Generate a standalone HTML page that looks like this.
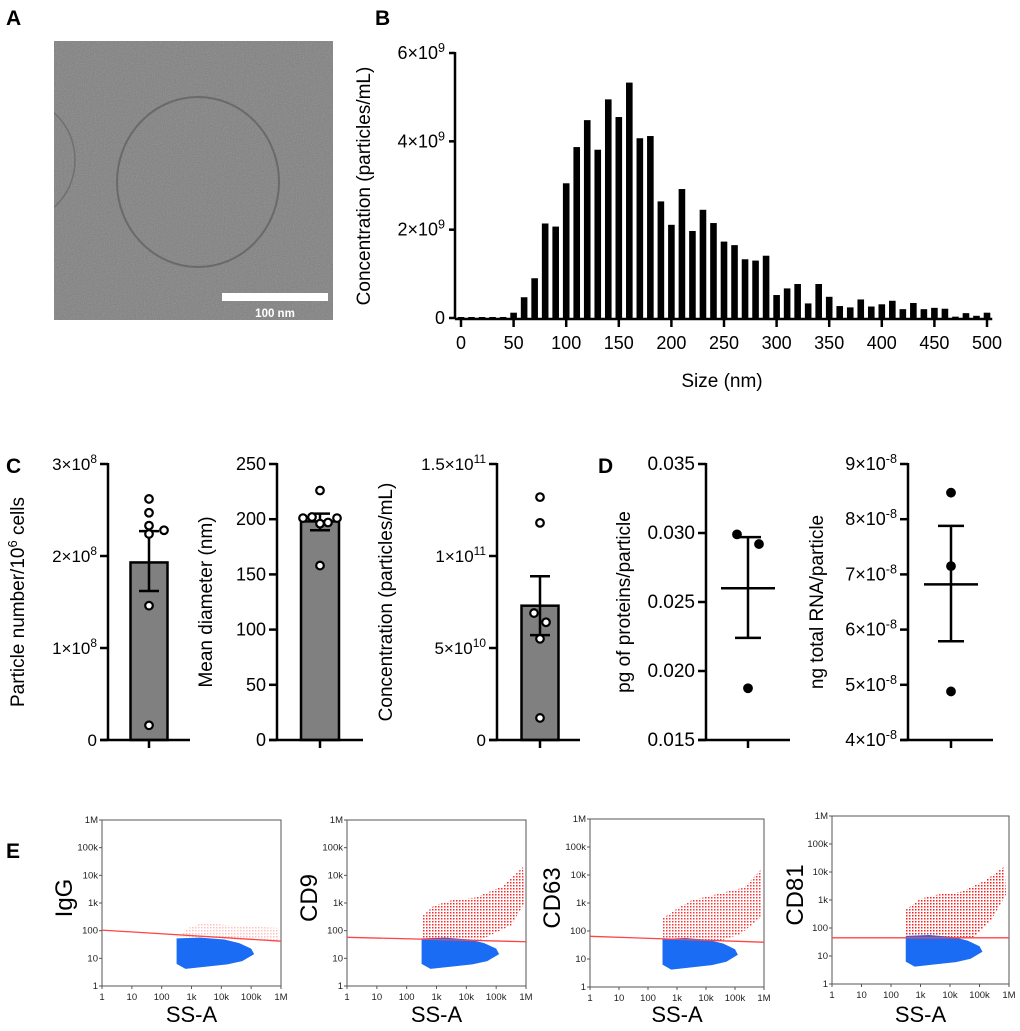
<!DOCTYPE html>
<html><head><meta charset="utf-8"><style>
html,body{margin:0;padding:0;background:#fff;}
svg{display:block;font-family:"Liberation Sans",Arial,sans-serif;}
</style></head><body>
<svg id="fig" width="1020" height="1031" viewBox="0 0 1020 1031" xmlns="http://www.w3.org/2000/svg">
<defs>
<filter id="noise" x="0" y="0" width="100%" height="100%"><feTurbulence type="fractalNoise" baseFrequency="0.9" numOctaves="2" seed="3"/><feColorMatrix type="saturate" values="0"/><feComponentTransfer><feFuncA type="linear" slope="0.35"/></feComponentTransfer></filter>
</defs>
<g font-weight="bold" font-size="21">
<text x="6" y="25">A</text>
<text x="375" y="25">B</text>
<text x="6" y="473">C</text>
<text x="598" y="473">D</text>
<text x="6" y="858">E</text>
</g>
<g>
<rect x="54" y="41" width="279" height="279" fill="#7f7f7f"/>
<rect x="54" y="41" width="279" height="279" filter="url(#noise)"/>
<ellipse cx="198" cy="182" rx="81" ry="85" fill="none" stroke="#6a6a6a" stroke-width="2"/>
<clipPath id="aclip"><rect x="54" y="41" width="279" height="279"/></clipPath>
<ellipse cx="20" cy="160" rx="55" ry="60" fill="none" stroke="#707070" stroke-width="1.5" clip-path="url(#aclip)"/>
<rect x="222" y="293" width="106" height="8" fill="#fff"/>
<text x="275" y="317" fill="#fff" font-size="11.5" font-weight="bold" text-anchor="middle">100 nm</text>
</g>
<g id="pb"></g>
<g id="pc"></g>
<g id="pd"></g>
<g id="pe"></g>
</svg>
<script>
const NS='http://www.w3.org/2000/svg';
function mk(parent,tag,attrs,text){const e=document.createElementNS(NS,tag);for(const k in attrs)e.setAttribute(k,attrs[k]);if(text!==undefined)e.textContent=text;parent.appendChild(e);return e;}
function supText(parent,attrs,label,fs){
 const t=mk(parent,'text',attrs);
 const parts=label.split('^');
 mk(t,'tspan',{},parts[0]);
 if(parts.length>1){mk(t,'tspan',{dy:-7,'font-size':fs*0.7},parts[1]);}
 return t;
}

// ---- Panel B data ----
const sizeBins=[0,10,20,30,40,50,60,70,80,90,100,110,120,130,140,150,160,170,180,190,200,210,220,230,240,250,260,270,280,290,300,310,320,330,340,350,360,370,380,390,400,410,420,430,440,450,460,470,480,490,500];
const concValues=[0,0,0,0,0.02,0.12,0.47,0.9,2.14,2.07,3.05,3.87,4.48,3.81,4.95,4.55,5.33,4.07,4.12,2.64,2.11,2.92,1.97,2.45,2.15,1.73,1.65,1.33,1.30,1.41,0.52,0.67,0.77,0.33,0.77,0.48,0.27,0.24,0.42,0.26,0.31,0.39,0.20,0.34,0.20,0.23,0.21,0.03,0.11,0.05,0.12];
const bXTicks=[0,50,100,150,200,250,300,350,400,450,500];
const bYTicks=[0,2,4,6];
const bYLabels=['0','2×10^9','4×10^9','6×10^9'];

// ---- Panel C data ----
const c1Points=[2.62,2.47,2.33,2.24,2.28,1.46,0.16]; const c1Mean=1.93, c1Err=[1.62,2.27];
const c1Ticks=[0,1,2,3]; const c1Labels=['0','1×10^8','2×10^8','3×10^8'];
const c2Points=[226,201,202,196,197,201,158]; const c2Mean=198, c2Err=[190,205];
const c2Ticks=[0,50,100,150,200,250]; const c2Labels=['0','50','100','150','200','250'];
const c3Points=[13.2,11.8,6.9,6.4,5.5,1.2]; const c3Mean=7.3, c3Err=[5.7,8.9];
const c3Ticks=[0,5,10,15]; const c3Labels=['0','5×10^10','1×10^11','1.5×10^11'];

// ---- Panel D data ----
const d1Points=[0.0299,0.0292,0.01875]; const d1Mean=0.0260, d1Err=[0.0224,0.0297];
const d1Ticks=[0.015,0.020,0.025,0.030,0.035]; const d1Labels=['0.015','0.020','0.025','0.030','0.035'];
const d2Points=[8.48,7.15,4.88]; const d2Mean=6.82, d2Err=[5.79,7.88];
const d2Ticks=[4,5,6,7,8,9]; const d2Labels=['4×10^-8','5×10^-8','6×10^-8','7×10^-8','8×10^-8','9×10^-8'];

// ---- Panel E data (log10 coordinates) ----
const eMarkers=['IgG','CD9','CD63','CD81'];
const eDecadeLabels=['1','10','100','1k','10k','100k','1M'];
const eGateStart=[2.02,1.76,1.81,1.65];
const eGateEnd=[1.62,1.60,1.60,1.65];
const eBlueCloud=[[2.5,1.72],[3.3,1.75],[4.1,1.68],[4.6,1.55],[5.0,1.35],[5.1,1.15],[4.7,0.9],[4.2,0.78],[3.5,0.7],[2.8,0.62],[2.5,0.8]];
const eRedClouds=[
 [[2.5,1.75],[2.9,2.1],[3.4,2.3],[4.2,2.2],[5.9,2.1],[5.9,1.65],[4.5,1.68],[2.5,1.8]],
 [[2.5,1.72],[2.5,2.5],[2.9,2.9],[3.5,3.1],[4.3,3.2],[5.2,3.6],[5.9,4.3],[5.95,3.0],[5.5,2.2],[4.5,1.68]],
 [[2.5,1.74],[2.5,2.45],[3,2.8],[3.5,3.1],[4.3,3.3],[5.3,3.55],[5.9,4.2],[5.9,2.5],[5.2,1.9],[4.5,1.65]],
 [[2.5,1.67],[2.5,2.65],[3,3.05],[3.6,3.2],[4.4,3.3],[5.2,3.7],[5.85,4.2],[5.9,3.2],[5.4,2.3],[4.8,1.67]]
];
const eRedDensity=[0.25,0.85,0.8,0.9];

// ===== Draw panel B =====
(function(){
 const g=document.getElementById('pb');
 const x0=461,x1=987,y0=318,y1=53;
 const X=v=>x0+(v-0)/(500)*(x1-x0);
 const Y=v=>y0-(v/6)*(y0-y1);
 const bw=6.6;
 sizeBins.forEach((s,i)=>{const v=concValues[i];const h=Math.max(Y(0)-Y(v),1);
  const r=mk(g,'rect',{x:X(s)-bw/2,y:Y(0)-h,width:bw,height:h,fill:'#000'});
  
  });
 mk(g,'line',{x1:455,y1:y0,x2:455,y2:y1-1,stroke:'#000','stroke-width':2.5,});
 mk(g,'line',{x1:455,y1:y0+1,x2:X(505),y2:y0+1,stroke:'#000','stroke-width':2.5,});
 bYTicks.forEach((t,i)=>{mk(g,'line',{x1:449,y1:Y(t),x2:455,y2:Y(t),stroke:'#000','stroke-width':2.5});
  const tx=supText(g,{x:445,y:Y(t)+6,'font-size':18,'text-anchor':'end'},bYLabels[i],18);
  
  });
 bXTicks.forEach(t=>{mk(g,'line',{x1:X(t),y1:y0+1,x2:X(t),y2:y0+9,stroke:'#000','stroke-width':2.5});
  const tx=mk(g,'text',{x:X(t),y:y0+31,'font-size':18,'text-anchor':'middle'},String(t));
  
  });
 mk(g,'text',{x:722,y:387,'font-size':19,'text-anchor':'middle',},'Size (nm)');
 mk(g,'text',{transform:'translate(370,186) rotate(-90)','font-size':19,'text-anchor':'middle',},'Concentration (particles/mL)');
})();

// ===== generic dot/bar plot =====
function dotPlot(g,o){
 const Y=v=>o.y0-(v-o.min)/(o.max-o.min)*(o.y0-o.y1);
 if(o.bar){const r=mk(g,'rect',{x:o.cx-o.bw/2,y:Y(o.mean),width:o.bw,height:o.y0-Y(o.mean),fill:'#808080',stroke:'#000','stroke-width':2.5});
  
  }
 const el=mk(g,'path',{d:`M${o.cx},${Y(o.err[0])}V${Y(o.err[1])}M${o.cx-o.cap},${Y(o.err[0])}H${o.cx+o.cap}M${o.cx-o.cap},${Y(o.err[1])}H${o.cx+o.cap}`+(o.bar?'':`M${o.cx-o.mw},${Y(o.mean)}H${o.cx+o.mw}`),stroke:'#000','stroke-width':2.5,fill:'none'});
 
 
 o.pts.forEach((v,i)=>{const c=mk(g,'circle',{cx:o.cx+o.off[i%o.off.length],cy:Y(v),r:o.bar?3.8:4.4,fill:o.bar?'#fff':'#000',stroke:'#000','stroke-width':o.bar?2.2:1});
  
  });
 mk(g,'line',{x1:o.ax,y1:o.y0+1,x2:o.ax,y2:o.y1-1,stroke:'#000','stroke-width':2.5});
 mk(g,'line',{x1:o.ax-8,y1:o.y0,x2:o.xe,y2:o.y0,stroke:'#000','stroke-width':2.5});
 mk(g,'line',{x1:o.cx,y1:o.y0,x2:o.cx,y2:o.y0+8,stroke:'#000','stroke-width':2.5});
 o.ticks.forEach((t,i)=>{mk(g,'line',{x1:o.ax-8,y1:Y(t),x2:o.ax,y2:Y(t),stroke:'#000','stroke-width':2.5});
  const tx=supText(g,{x:o.ax-11,y:Y(t)+6,'font-size':o.fs||17,'text-anchor':'end'},o.labels[i],o.fs||17);
  
  });
 const tt=mk(g,'text',{transform:`translate(${o.tx},${(o.y0+o.y1)/2}) rotate(-90)`,'font-size':19,'text-anchor':'middle'});
 tt.innerHTML=o.title;
 
 
}
const pc=document.getElementById('pc');
dotPlot(pc,{name:'particle-number',min:0,max:3,y0:740,y1:464,ax:108,xe:190,cx:149,bw:37,bar:true,mean:c1Mean,err:c1Err,cap:10,pts:c1Points,off:[0,0,0,0,15,0,0],ticks:c1Ticks,labels:c1Labels,tx:24,title:'Particle number/10<tspan dy="-7" font-size="13">6</tspan><tspan dy="7"> cells</tspan>'});
dotPlot(pc,{name:'mean-diameter',min:0,max:250,y0:740,y1:464,ax:277,xe:363,cx:320,bw:38,bar:true,mean:c2Mean,err:c2Err,cap:10,pts:c2Points,off:[0,-17,-8,0,8,17,0],ticks:c2Ticks,labels:c2Labels,tx:212,fs:18,title:'Mean diameter (nm)'});
dotPlot(pc,{name:'concentration',min:0,max:15,y0:740,y1:464,ax:497,xe:580,cx:540,bw:37,bar:true,mean:c3Mean,err:c3Err,cap:10,pts:c3Points,off:[0,0,-6,6,0,0],ticks:c3Ticks,labels:c3Labels,tx:392,title:'Concentration (particles/mL)'});
const pd=document.getElementById('pd');
dotPlot(pd,{name:'protein-per-particle',min:0.015,max:0.035,y0:740,y1:464,ax:706,xe:790,cx:748,bar:false,mean:d1Mean,err:d1Err,cap:13,mw:27,pts:d1Points,off:[-11,11,0],ticks:d1Ticks,labels:d1Labels,tx:630,fs:19,title:'pg of proteins/particle'});
dotPlot(pd,{name:'rna-per-particle',min:4,max:9,y0:740,y1:464,ax:908,xe:993,cx:951,bar:false,mean:d2Mean,err:d2Err,cap:13,mw:27,pts:d2Points,off:[0,0,0],ticks:d2Ticks,labels:d2Labels,tx:823,fs:18,title:'ng total RNA/particle'});

// ===== Panel E =====
(function(){
 const g=document.getElementById('pe');
 const frames=[[102,820,281,986],[347,820,526,986],[590,819,764,987],[832,816,1009,984]];
 const titleX=[72,317,560,803];
 eMarkers.forEach((m,k)=>{
  const [L,T,R,B]=frames[k];
  const X=v=>L+v/6*(R-L), Y=v=>B-v/6*(B-T);
  const sub=mk(g,'g',{});
  
  
  mk(sub,'rect',{x:L,y:T,width:R-L,height:B-T,fill:'#fff',stroke:'#555','stroke-width':1});
  const pat=mk(sub,'pattern',{id:'rp'+k,width:3,height:3,patternUnits:'userSpaceOnUse'});
  mk(pat,'rect',{x:0,y:0,width:1.5,height:1.5,fill:'#f00'});
  const red=mk(sub,'polygon',{points:eRedClouds[k].map(p=>X(p[0])+','+Y(p[1])).join(' '),fill:'url(#rp'+k+')',opacity:eRedDensity[k]});
  
  
  const blue=mk(sub,'polygon',{points:eBlueCloud.map(p=>X(p[0])+','+Y(p[1])).join(' '),fill:'#1a6cf5'});
  
  
  const gate=mk(sub,'line',{x1:X(0),y1:Y(eGateStart[k]),x2:X(6),y2:Y(eGateEnd[k]),stroke:'#f44','stroke-width':1.3});
  
  
  eDecadeLabels.forEach((lab,i)=>{
   mk(sub,'line',{x1:X(i),y1:B,x2:X(i),y2:B+3,stroke:'#555'});
   mk(sub,'line',{x1:L-3,y1:Y(i),x2:L,y2:Y(i),stroke:'#555'});
   const a=mk(sub,'text',{x:X(i),y:B+14,'font-size':9.5,'text-anchor':'middle',fill:'#222'},lab);
   
   
   const b=mk(sub,'text',{x:L-4,y:Y(i)+3,'font-size':9.5,'text-anchor':'end',fill:'#222'},lab);
   
   
  });
  const xt=mk(sub,'text',{x:(L+R)/2,y:1022,'font-size':22,'text-anchor':'middle'},'SS-A');
  
  
  const yt=mk(sub,'text',{transform:`translate(${titleX[k]},${(T+B)/2-5}) rotate(-90)`,'font-size':24,'text-anchor':'middle'},m);
  
  
 });
})();
</script>
</body></html>
